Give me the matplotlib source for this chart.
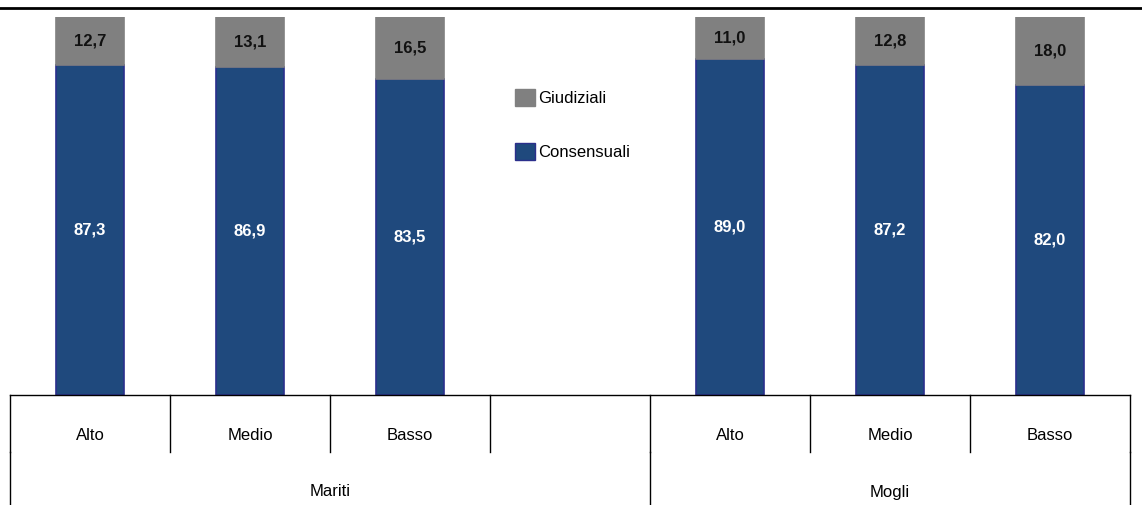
import matplotlib.pyplot as plt
from matplotlib.lines import Line2D
from matplotlib.patches import Patch

plt.rcParams["font.family"] = ["Liberation Sans", "DejaVu Sans"]

groups = ["Mariti", "Mogli"]
levels = ["Alto", "Medio", "Basso"]
consensuali = [87.3, 86.9, 83.5, 89.0, 87.2, 82.0]
giudiziali = [12.7, 13.1, 16.5, 11.0, 12.8, 18.0]
positions = [0, 1, 2, 4, 5, 6]

BLUE = "#1F497D"
EDGE = "#2B2F8C"
GREY = "#808080"

W, H = 1142, 505
fig = plt.figure(figsize=(W / 100, H / 100), dpi=100)
ax = fig.add_axes([10 / W, (H - 395) / H, 1120 / W, 378 / H])
ax.set_xlim(-0.5, 6.5)
ax.set_ylim(0, 100)
ax.axis("off")


def py(px):
    # pixel row -> data y
    return (395 - px) / 378 * 100


ax.bar(positions, consensuali, width=0.43, color=BLUE, edgecolor=EDGE, linewidth=1.2)
ax.bar(positions, giudiziali, width=0.43, bottom=consensuali, color=GREY, edgecolor=GREY, linewidth=1.2)

for x, c, g in zip(positions, consensuali, giudiziali):
    ax.text(x, c / 2, f"{c:.1f}".replace(".", ","), ha="center", va="center",
            color="white", fontsize=12, fontweight="bold")
    ax.text(x, c + g / 2, f"{g:.1f}".replace(".", ","), ha="center", va="center",
            color="#111111", fontsize=12, fontweight="bold")

# category table under the axis
kw = dict(color="black", linewidth=1, clip_on=False)
ax.add_line(Line2D([-0.5, 6.5], [0, 0], **kw))
for i in range(8):
    ax.add_line(Line2D([i - 0.5, i - 0.5], [0, py(452)], **kw))
for xb in (-0.5, 3.5, 6.5):
    ax.add_line(Line2D([xb, xb], [py(452), py(505)], **kw))
for x, lab in zip(positions, levels * 2):
    ax.text(x, py(435), lab, ha="center", va="center", fontsize=12)
ax.text(1.5, py(492), groups[0], ha="center", va="center", fontsize=12)
ax.text(5.0, py(492), groups[1], ha="center", va="center", fontsize=12)

fig.add_artist(Line2D([0, 1], [1 - 8 / H, 1 - 8 / H], color="black", linewidth=2))

handles = [Patch(facecolor=GREY, edgecolor=GREY), Patch(facecolor=BLUE, edgecolor=EDGE)]
fig.legend(handles, ["Giudiziali", "Consensuali"], loc="upper left",
           bbox_to_anchor=(500 / W, 1 - 74 / H), frameon=False, fontsize=12,
           handlelength=1.2, handleheight=1.2, handletextpad=0.2, labelspacing=2.2)

fig.savefig("out.png", dpi=100)
